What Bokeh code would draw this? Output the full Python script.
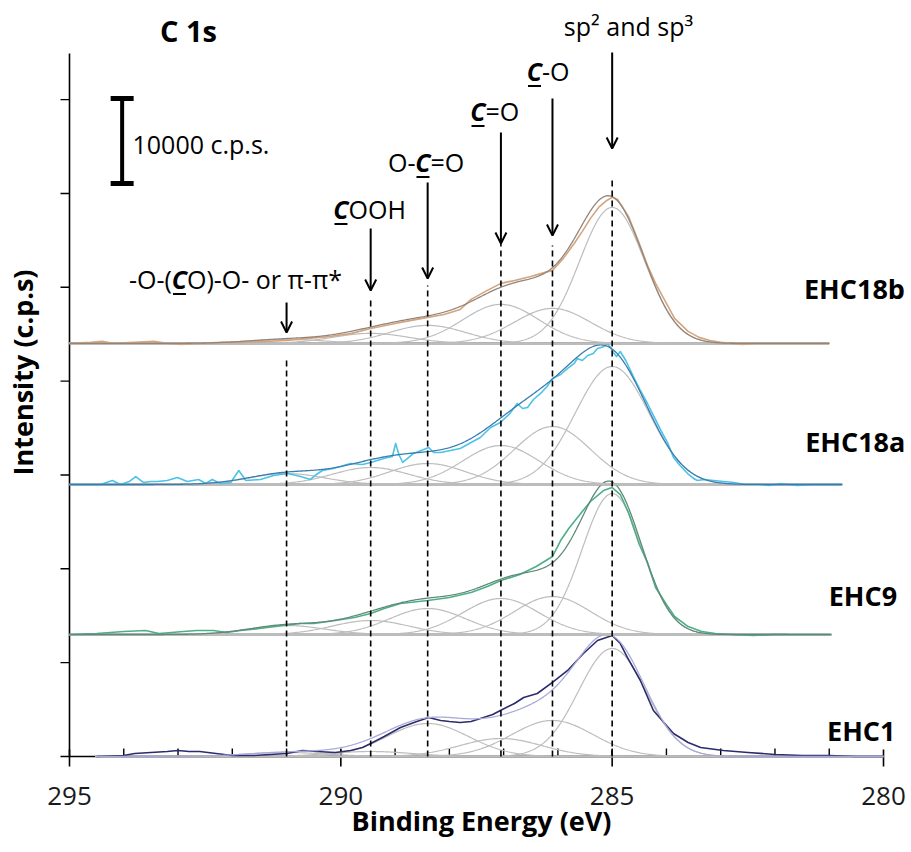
import numpy as np
from bokeh.plotting import figure
from bokeh.models import Range1d, Arrow, OpenHead
from bokeh.embed import file_html
from bokeh.resources import INLINE
from bokeh.core.properties import value

FONT = "Open Sans"

# ---------------------------------------------------------------- data
# Binding energies of the fitted C 1s components (eV)
peak_names = ["sp2/sp3", "C-O", "C=O", "O-C=O", "COOH", "-O-(CO)-O- / pi-pi*"]
peak_centres = [285.0, 286.1, 287.05, 288.4, 289.45, 291.0]

samples = ["EHC1", "EHC9", "EHC18a", "EHC18b"]
# vertical stacking offset of each spectrum (c.p.s.)
offsets = [0, 14350, 32000, 48600]
# energy span of the fitted background of each spectrum (eV)
background_start = [294.52, 295.0, 295.0, 295.0]
background_end = [280.0, 280.96, 280.76, 281.0]

# fitted component heights above background (c.p.s.), order of peak_centres
heights_ehc1 = [12710, 4240, 2120, 3880, 590, 470]
heights_ehc9 = [16590, 4470, 4240, 3060, 1650, 1060]
heights_ehc18a = [13880, 6820, 4590, 2470, 2000, 1290]
heights_ehc18b = [16000, 4120, 4590, 2120, 1180, 470]
# component full widths at half maximum (eV)
fwhm_ehc1 = [1.46, 1.77, 1.77, 1.77, 1.77, 1.77]
fwhm_ehc9 = [1.30, 1.65, 1.65, 1.65, 1.65, 1.65]
fwhm_ehc18a = [1.60, 1.65, 1.65, 1.65, 1.65, 1.65]
fwhm_ehc18b = [1.41, 1.65, 1.65, 1.65, 1.65, 1.65]

# measured spectra: binding energy (eV) and counts above background (c.p.s.)
energy_ehc1 = [294.5, 294.0, 293.8, 293.5, 293.2, 293.0, 292.8, 292.6, 292.3, 292.0,
               291.6, 291.3, 291.0, 290.7, 290.45, 290.1, 289.82, 289.6, 289.45, 289.2,
               288.9, 288.6, 288.38, 288.16, 288.0, 287.8, 287.6, 287.37, 287.2, 287.06,
               286.8, 286.63, 286.38, 286.1, 285.82, 285.53, 285.27, 285.0, 284.85, 284.72,
               284.48, 284.24, 283.87, 283.6, 283.37, 282.95, 282.5, 282.0, 281.5, 281.0,
               280.5, 280.0]
counts_ehc1 = [0, 120, 350, 470, 590, 710, 590, 590, 350, 120,
               120, 240, 350, 710, 590, 470, 710, 1060, 1530, 2350,
               3410, 4120, 4590, 4240, 4120, 4000, 4120, 4590, 4940, 5410,
               6240, 6940, 7410, 8710, 10120, 12120, 13650, 14240, 13290, 11650,
               8940, 5410, 2710, 1650, 1060, 710, 470, 240, 120, 120,
               0, 0]

energy_ehc9 = [295.0, 294.5, 294.25, 294.0, 293.6, 293.35, 292.9, 292.65, 292.35, 292.1,
               291.85, 291.5, 291.05, 290.75, 290.5, 290.1, 289.75, 289.45, 289.2, 288.9,
               288.4, 288.0, 287.6, 287.3, 287.05, 286.7, 286.4, 286.1, 285.95, 285.8,
               285.58, 285.4, 285.16, 285.0, 284.85, 284.7, 284.5, 284.35, 284.2, 284.0,
               283.85, 283.6, 283.35, 283.1, 282.8, 282.4, 282.0, 281.5, 281.0]
counts_ehc9 = [0, 120, 240, 350, 470, 120, 350, 470, 470, 240,
               470, 710, 1060, 1290, 1290, 1650, 2000, 2470, 3060, 3650,
               4000, 4350, 4940, 5650, 6350, 7060, 8000, 9180, 11060, 12470,
               14240, 15650, 16940, 17290, 16470, 14350, 10590, 8470, 5530, 3530,
               2120, 940, 350, 120, 0, -120, 0, 0, 0]

energy_ehc18a = [295.0, 294.6, 294.43, 294.21, 294.06, 293.9, 293.78, 293.64, 293.5, 293.38,
                 293.2, 293.01, 292.83, 292.62, 292.49, 292.37, 292.22, 292.03, 291.88, 291.75,
                 291.48, 291.24, 290.98, 290.74, 290.56, 290.45, 290.34, 290.14, 289.82, 289.6,
                 289.45, 289.21, 289.05, 288.99, 288.93, 288.86, 288.66, 288.38, 288.29, 288.16,
                 287.8, 287.6, 287.43, 287.24, 287.06, 286.9, 286.75, 286.65, 286.56, 286.45,
                 286.32, 286.2, 286.1, 285.95, 285.82, 285.7, 285.64, 285.55, 285.45, 285.35,
                 285.27, 285.15, 285.09, 285.03, 284.98, 284.92, 284.85, 284.75, 284.6, 284.48,
                 284.35, 284.22, 284.1, 283.98, 283.87, 283.75, 283.61, 283.5, 283.43, 283.3,
                 283.13, 282.95, 282.76, 282.55, 282.32, 282.1, 281.9, 281.59, 281.3, 281.05,
                 280.79]
counts_ehc18a = [0, 0, 0, 470, 0, 350, 940, 240, 350, 350,
                 470, 820, 350, 590, 120, 590, 120, 240, 1650, 470,
                 590, 1060, 1290, 940, 590, 1180, 1650, 1880, 2470, 2350,
                 2590, 3060, 3290, 4820, 3530, 2590, 3650, 4350, 3760, 3760,
                 4240, 4940, 5530, 6710, 7290, 8240, 9530, 8940, 9060, 10000,
                 10710, 11530, 12470, 12940, 13650, 14240, 14820, 14590, 15180, 15410,
                 16000, 16240, 16590, 16120, 15530, 15060, 15650, 14590, 12590, 11060,
                 9530, 7880, 6350, 4940, 3180, 2240, 1290, 710, 470, 590,
                 470, 350, 240, 0, 0, -120, 120, -120, 0, 0,
                 0]

energy_ehc18b = [295.0, 294.6, 294.4, 294.2, 293.8, 293.45, 293.2, 292.95, 292.6, 292.2,
                 291.8, 291.4, 291.0, 290.6, 290.2, 289.8, 289.45, 289.0, 288.7, 288.4,
                 288.1, 287.8, 287.6, 287.3, 287.05, 286.8, 286.5, 286.3, 286.1, 285.9,
                 285.7, 285.55, 285.4, 285.25, 285.1, 285.0, 284.9, 284.7, 284.5, 284.35,
                 284.2, 284.0, 283.85, 283.6, 283.4, 283.2, 283.0, 282.6, 282.3, 282.0,
                 281.5, 281.0]
counts_ehc18b = [0, 120, 240, 0, 120, 240, 0, -120, 0, 120,
                 120, 240, 350, 590, 820, 1180, 1760, 2350, 2710, 3060,
                 3410, 4000, 5180, 6240, 7060, 7410, 7880, 8240, 8590, 10000,
                 11760, 13180, 14710, 16000, 16820, 17180, 16940, 14940, 11760, 9180,
                 7060, 4710, 2940, 1410, 710, 350, 120, -120, 0, 0,
                 0, 0]

data_colours = ["#2b2b6e", "#4fae88", "#4cc2e6", "#d3a47e"]
fit_colours = ["#a9a9d9", "#5f8a78", "#3a7cb0", "#94857a"]

# axis ticks
x_major_ticks = [280, 285, 290, 295]
x_minor_ticks = list(range(281, 295))
y_ticks = [i * 11040 for i in range(8)]

# ---------------------------------------------------------------- layout
W, H = 911, 852
AX_LEFT, AX_BOTTOM = 69, 96           # axis position, pixels from left / bottom edge
PX_PER_EV = 814 / 15.0
CPS_PER_PX = 10000 / 85.0
X0, Y0 = 295.0, 0.0                    # axis corner in data units
BASELINE_FIX = 0.45                     # em, places the alphabetic baseline on y

p = figure(width=W, height=H,
           x_range=Range1d(X0 + AX_LEFT / PX_PER_EV, X0 - (W - AX_LEFT) / PX_PER_EV),
           y_range=Range1d(-AX_BOTTOM * CPS_PER_PX, (H - AX_BOTTOM) * CPS_PER_PX),
           x_axis_type=None, y_axis_type=None,
           output_backend="svg", toolbar_location=None,
           min_border_left=0, min_border_right=0, min_border_top=0, min_border_bottom=0)
p.outline_line_color = None
p.grid.visible = False
p.background_fill_color = "white"
p.border_fill_color = "white"


def px_x(n):
    return n / PX_PER_EV


def px_y(n):
    return n * CPS_PER_PX


def txt(x, y, s, size=25, style="normal", align="left", x_offset=0, angle=0.0,
        color="black"):
    shift = BASELINE_FIX * size
    if angle:
        x = x + px_x(shift)
    else:
        y = y + px_y(shift)
    p.text(x=[x], y=[y], text=[s], text_font=value(FONT), text_font_size=f"{size}px",
           text_font_style=style, text_align=align, text_baseline="alphabetic",
           text_color=color, x_offset=x_offset, angle=angle)


def component(e, centre, height, fwhm):
    """Gaussian line shape of one fitted C 1s component."""
    sigma = fwhm / 2.3548
    return height * np.exp(-0.5 * ((e - centre) / sigma) ** 2)


# ---------------------------------------------------------------- axes
# x axis line, ticks and labels
p.segment(x0=[X0], y0=[Y0], x1=[min(x_major_ticks)], y1=[Y0], line_color="black", line_width=1.6)
p.segment(x0=x_major_ticks, y0=[Y0 + px_y(7)] * 4, x1=x_major_ticks, y1=[Y0 - px_y(10)] * 4,
          line_color="black", line_width=1.6)
p.segment(x0=x_minor_ticks, y0=[Y0] * len(x_minor_ticks), x1=x_minor_ticks,
          y1=[Y0 + px_y(8)] * len(x_minor_ticks), line_color="black", line_width=1.4)
for t in x_major_ticks:
    txt(t, Y0 - px_y(51), str(t), size=26, align="center", color="#1a1a1a")
txt(287.408, Y0 - px_y(76), "Binding Energy (eV)", size=27, style="bold", align="center")

# y axis line, outward ticks and title
p.segment(x0=[X0], y0=[Y0], x1=[X0], y1=[82700], line_color="black", line_width=1.6)
p.segment(x0=[X0] * len(y_ticks), y0=y_ticks, x1=[X0 + px_x(9)] * len(y_ticks), y1=y_ticks,
          line_color="black", line_width=1.4)
txt(X0 + px_x(35), 45180, "Intensity (c.p.s)", size=27, style="bold", align="center",
    angle=np.pi / 2)

# ---------------------------------------------------------------- spectra
spectra = [
    (energy_ehc1, counts_ehc1, heights_ehc1, fwhm_ehc1),
    (energy_ehc9, counts_ehc9, heights_ehc9, fwhm_ehc9),
    (energy_ehc18a, counts_ehc18a, heights_ehc18a, fwhm_ehc18a),
    (energy_ehc18b, counts_ehc18b, heights_ehc18b, fwhm_ehc18b),
]

for i, (e_meas, c_meas, heights, widths) in enumerate(spectra):
    off = offsets[i]
    e_lo, e_hi = background_end[i], background_start[i]
    grid = np.linspace(e_lo, e_hi, 700)
    parts = [component(grid, c, h, w) for c, h, w in zip(peak_centres, heights, widths)]
    # background
    p.line([e_hi, e_lo], [off, off], line_color="#a6a6a6", line_width=2.6)
    # fitted components
    for part in parts:
        p.line(grid, off + part, line_color="#bdbdbd", line_width=1.2)
    # measured spectrum
    p.line(e_meas, [off + c for c in c_meas], line_color=data_colours[i], line_width=1.6,
           line_join="round")
    # fit envelope
    p.line(grid, off + np.sum(parts, axis=0), line_color=fit_colours[i], line_width=1.3)

# dashed guides at the component energies
dash_tops = [68000, 60120, 60350, 55410, 53650, 46800]
p.segment(x0=peak_centres, y0=[0] * 6, x1=peak_centres, y1=dash_tops,
          line_color="black", line_width=1.6, line_dash="6 4")

# arrows pointing at the component energies
arrow_starts = [82820, 77410, 73410, 67530, 62120, 53410]
arrow_ends = [71530, 61290, 60350, 56240, 54820, 49880]
for c, ys, ye in zip(peak_centres, arrow_starts, arrow_ends):
    p.add_layout(Arrow(end=OpenHead(size=11, line_width=2, line_color="black"),
                       x_start=c, y_start=ys, x_end=c, y_end=ye,
                       line_width=2, line_color="black"))

# 10000 c.p.s. scale bar
bar_x, bar_lo, bar_len = 294.03, 67410, 10000
cap = px_x(11.5)
p.segment(x0=[bar_x], y0=[bar_lo], x1=[bar_x], y1=[bar_lo + bar_len],
          line_color="black", line_width=4)
p.segment(x0=[bar_x + cap, bar_x + cap], y0=[bar_lo, bar_lo + bar_len],
          x1=[bar_x - cap, bar_x - cap], y1=[bar_lo, bar_lo + bar_len],
          line_color="black", line_width=5)
txt(293.839, 70710, "10000 c.p.s.")

# titles of the panel and the main peak
txt(292.807, 83880, "C 1s", size=29, style="bold", align="center")
txt(284.699, 84590, "sp\u00b2 and sp\u00b3", align="center")

# component labels with the emphasised carbon atom (bold italic, underlined)
C_W = 15
underlined = [
    ("-O-(", "O)-O- or \u03c0-\u03c0*", 292.835, 54820),
    ("", "OOH", 289.859, 63060),
    ("O-", "=O", 288.348, 68590),
    ("", "=O", 287.334, 74590),
    ("", "-O", 286.293, 79290),
]
for prefix, suffix, anchor, base in underlined:
    txt(anchor, base, "C", style="bold italic", align="right")
    txt(anchor, base, suffix, align="left")
    if prefix:
        txt(anchor, base, prefix, align="right", x_offset=-C_W)
    uy = base - px_y(3.5)
    p.segment(x0=[anchor + px_x(C_W - 1)], y0=[uy], x1=[anchor + px_x(1)], y1=[uy],
              line_color="black", line_width=2)

# sample names
name_x = [280.41, 280.38, 280.52, 280.535]
name_y = [1650, 17530, 35650, 53650]
for nm, nx, ny in zip(samples, name_x, name_y):
    txt(nx, ny, nm, size=27, style="bold", align="center")

open("out.html", "w").write(file_html(p, INLINE))
